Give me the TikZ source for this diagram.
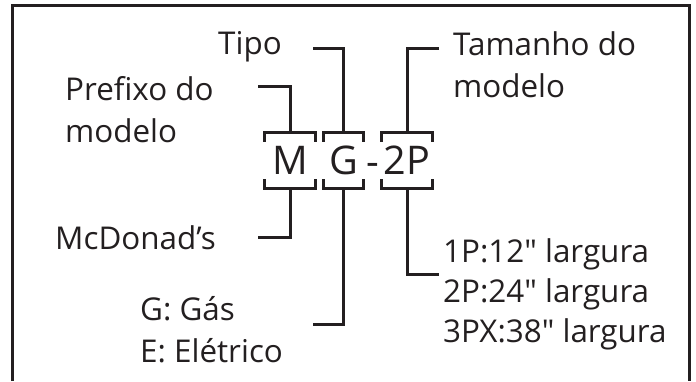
\documentclass[tikz,border=0pt]{standalone}
\usepackage{fontspec}
\setmainfont{Open Sans}[Ligatures=TeXOff]
\usepackage{xcolor}
\definecolor{codeink}{HTML}{231F20}

\begin{document}
\begin{tikzpicture}[
  x=1pt,
  y=-1pt,
  every node/.style={font=\fontsize{31.4}{42}\selectfont, text=codeink},
  label/.style={anchor=base west, inner sep=0pt, align=left},
  code/.style={inner sep=0pt, minimum height=55pt,
    font=\fontsize{39.5}{40}\selectfont},
  line/.style={codeink, line width=3pt}
]
  \useasboundingbox (0,0) rectangle (696,381);

  % ---- outer frame, open at the bottom ---------------------------------
  \draw[line] (12.5,381) |- (689,5.5) -- (689,381);

  % ---- the model code and its brackets ---------------------------------
  \node[code, minimum width=50pt] (m) at (290,160.5) {M};
  \node[code, minimum width=39pt] (g) at (343.5,160.5) {G};
  \node[code, anchor=base, minimum height=0pt] (dash) at (372.5,175) {-};
  \node[code, minimum width=50pt] (p) at (407,160.5) {2P};

  \foreach \n in {m,g,p} {
    \draw[line] ([yshift=-9pt]\n.north west) |- (\n.north)
      -| ([yshift=-9pt]\n.north east);
    \draw[line] ([yshift=9pt]\n.south west) |- (\n.south)
      -| ([yshift=9pt]\n.south east);
  }

  % ---- labels (base = last line) ------------------------------------------
  \node[label] (tipo) at (218,54) {Tipo};
  \node[label] (tamanho) at (453,97) {Tamanho do\\modelo};
  \node[label] (prefixo) at (65,142) {Prefixo do\\modelo};
  \node[label] (mcdonads) at (55,249) {McDonad’s};
  \node[label] (gas) at (140,362) {G: Gás\\E: Elétrico};
  \node[label, font=\fontsize{31.4}{40}\selectfont] (largura) at (443,342)
    {1P:12" largura\\2P:24" largura\\3PX:38" largura};

  % ---- leader lines --------------------------------------------------------
  \coordinate (prefixoEnd) at (258,86);
  \coordinate (mcdonadsEnd) at (258,237);
  \coordinate (tipoEnd) at (313,48);
  \coordinate (gasEnd) at (313,324);
  \coordinate (tamanhoEnd) at (439,48);
  \coordinate (larguraEnd) at (439,274);

  \draw[line] (prefixoEnd) -| (m.north);
  \draw[line] (m.south) |- (mcdonadsEnd);
  \draw[line] (tipoEnd) -| (g.north);
  \draw[line] (g.south) |- (gasEnd);
  \draw[line] (tamanhoEnd) -| (p.north);
  \draw[line] (p.south) |- (larguraEnd);
\end{tikzpicture}
\end{document}
